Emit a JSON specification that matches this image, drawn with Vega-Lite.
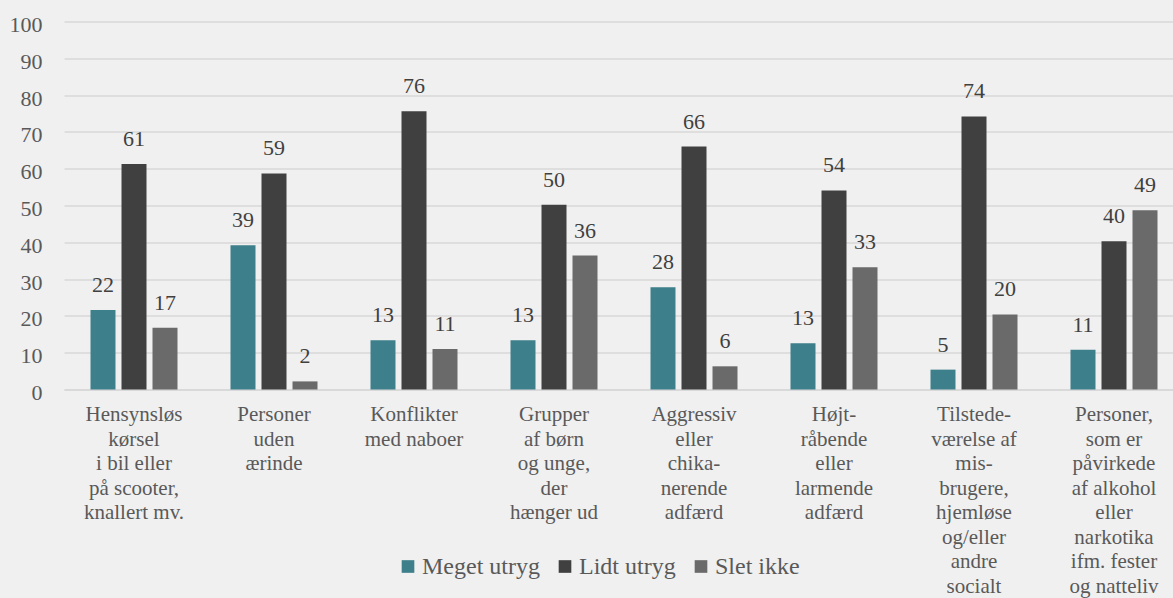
{
  "$schema": "https://vega.github.io/schema/vega-lite/v6.json",
  "autosize": {"type": "none"},
  "width": 1109,
  "height": 368,
  "padding": {"left": 64, "top": 21.5, "right": 0, "bottom": 208.5},
  "background": "#f0f0f0",
  "config": {
    "view": {"stroke": null},
    "font": "Liberation Serif",
    "axis": {"labelFont": "Liberation Serif"},
    "legend": {"labelFont": "Liberation Serif"},
    "text": {"font": "Liberation Serif"}
  },
  "data": {
    "values": [
      {"cat": "Hensynsløs|kørsel|i bil eller|på scooter,|knallert mv.", "series": "Meget utryg", "value": 21.6},
      {"cat": "Hensynsløs|kørsel|i bil eller|på scooter,|knallert mv.", "series": "Lidt utryg", "value": 61.3},
      {"cat": "Hensynsløs|kørsel|i bil eller|på scooter,|knallert mv.", "series": "Slet ikke", "value": 16.8},
      {"cat": "Personer|uden|ærinde", "series": "Meget utryg", "value": 39.2},
      {"cat": "Personer|uden|ærinde", "series": "Lidt utryg", "value": 58.7},
      {"cat": "Personer|uden|ærinde", "series": "Slet ikke", "value": 2.2},
      {"cat": "Konflikter|med naboer", "series": "Meget utryg", "value": 13.4},
      {"cat": "Konflikter|med naboer", "series": "Lidt utryg", "value": 75.6},
      {"cat": "Konflikter|med naboer", "series": "Slet ikke", "value": 11.0},
      {"cat": "Grupper|af børn|og unge,|der|hænger ud", "series": "Meget utryg", "value": 13.4},
      {"cat": "Grupper|af børn|og unge,|der|hænger ud", "series": "Lidt utryg", "value": 50.2},
      {"cat": "Grupper|af børn|og unge,|der|hænger ud", "series": "Slet ikke", "value": 36.4},
      {"cat": "Aggressiv|eller|chika-|nerende|adfærd", "series": "Meget utryg", "value": 27.8},
      {"cat": "Aggressiv|eller|chika-|nerende|adfærd", "series": "Lidt utryg", "value": 66.0},
      {"cat": "Aggressiv|eller|chika-|nerende|adfærd", "series": "Slet ikke", "value": 6.3},
      {"cat": "Højt-|råbende|eller|larmende|adfærd", "series": "Meget utryg", "value": 12.6},
      {"cat": "Højt-|råbende|eller|larmende|adfærd", "series": "Lidt utryg", "value": 54.1},
      {"cat": "Højt-|råbende|eller|larmende|adfærd", "series": "Slet ikke", "value": 33.2},
      {"cat": "Tilstede-|værelse af|mis-|brugere,|hjemløse|og/eller|andre|socialt", "series": "Meget utryg", "value": 5.4},
      {"cat": "Tilstede-|værelse af|mis-|brugere,|hjemløse|og/eller|andre|socialt", "series": "Lidt utryg", "value": 74.2},
      {"cat": "Tilstede-|værelse af|mis-|brugere,|hjemløse|og/eller|andre|socialt", "series": "Slet ikke", "value": 20.4},
      {"cat": "Personer,|som er|påvirkede|af alkohol|eller|narkotika|ifm. fester|og natteliv", "series": "Meget utryg", "value": 10.8},
      {"cat": "Personer,|som er|påvirkede|af alkohol|eller|narkotika|ifm. fester|og natteliv", "series": "Lidt utryg", "value": 40.3},
      {"cat": "Personer,|som er|påvirkede|af alkohol|eller|narkotika|ifm. fester|og natteliv", "series": "Slet ikke", "value": 48.7}
    ]
  },
  "encoding": {
    "x": {
      "field": "cat",
      "type": "nominal",
      "sort": null,
      "scale": {"range": [0, 1120], "paddingInner": 0, "paddingOuter": 0},
      "axis": {
        "title": null,
        "labelExpr": "split(datum.label, '|')",
        "labelAngle": 0,
        "labelFont": "Liberation Serif",
        "labelFontSize": 21,
        "labelLineHeight": 24.5,
        "labelColor": "#595959",
        "labelBaseline": "top",
        "labelPadding": 14,
        "labelOverlap": false,
        "labelBound": false,
        "labelLimit": 0,
        "ticks": false,
        "domain": true,
        "domainColor": "#d9d9d9",
        "domainWidth": 2
      }
    },
    "xOffset": {
      "field": "series",
      "type": "nominal",
      "sort": ["Meget utryg", "Lidt utryg", "Slet ikke"],
      "scale": {"paddingInner": 0.194, "paddingOuter": 0.855}
    },
    "y": {
      "field": "value",
      "type": "quantitative",
      "scale": {"domain": [0, 100], "nice": false},
      "axis": {
        "title": null,
        "values": [0, 10, 20, 30, 40, 50, 60, 70, 80, 90, 100],
        "grid": true,
        "gridColor": "#d9d9d9",
        "gridWidth": 1.3,
        "domain": false,
        "ticks": false,
        "labelFont": "Liberation Serif",
        "labelFontSize": 22,
        "labelColor": "#595959",
        "labelPadding": 22,
        "labelOffset": 3
      }
    }
  },
  "layer": [
    {
      "mark": {"type": "bar"},
      "encoding": {
        "color": {
          "field": "series",
          "type": "nominal",
          "sort": ["Meget utryg", "Lidt utryg", "Slet ikke"],
          "scale": {"domain": ["Meget utryg", "Lidt utryg", "Slet ikke"], "range": ["#3d7f8a", "#404040", "#6a6a6a"]},
          "legend": {
            "title": null,
            "orient": "none",
            "direction": "horizontal",
            "legendX": 332,
            "legendY": 533,
            "symbolType": "square",
            "symbolSize": 160,
            "symbolStrokeWidth": 0,
            "labelFont": "Liberation Serif",
            "labelFontSize": 24,
            "labelColor": "#595959",
            "labelOffset": 2,
            "columnPadding": 13
          }
        }
      }
    },
    {
      "mark": {"type": "text", "baseline": "alphabetic", "dy": -18, "fontSize": 22, "color": "#404040", "font": "Liberation Serif"},
      "encoding": {
        "text": {"field": "value", "type": "quantitative", "format": ".0f"}
      }
    }
  ]
}
